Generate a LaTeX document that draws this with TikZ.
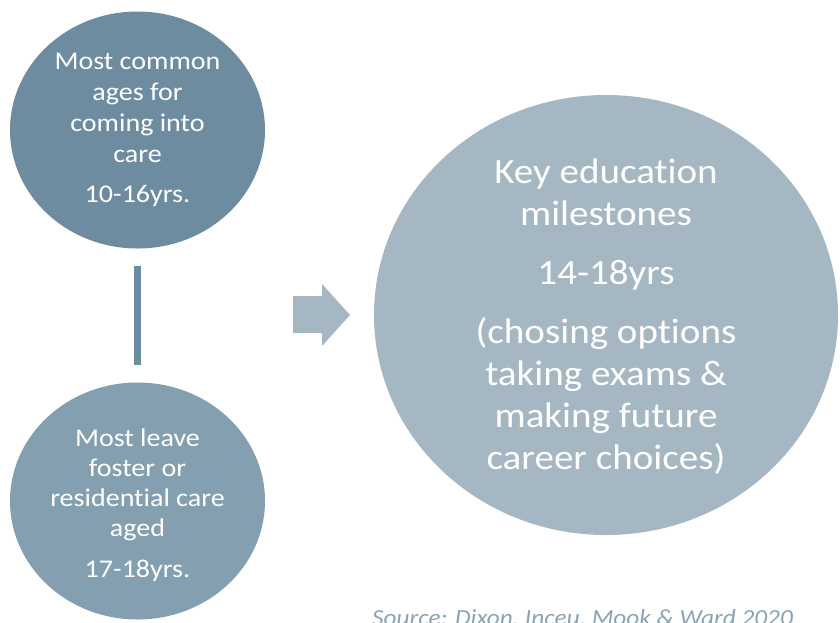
\documentclass[tikz,border=0pt]{standalone}
\usepackage{fontspec}
\setmainfont{Carlito}[FakeStretch=1.1, Ligatures=CommonOff]
\usetikzlibrary{shapes.geometric}
\definecolor{topc}{HTML}{6E8CA0}
\definecolor{botc}{HTML}{849FB0}
\definecolor{bigc}{HTML}{A4B7C3}
\definecolor{srcc}{HTML}{8AA3B5}
\tikzset{
  blob/.style={ellipse, draw=none, inner sep=0pt},
  smalltxt/.style={text=white, align=center, font=\fontsize{25.5}{31}\selectfont},
  bigtxt/.style={text=white, align=center, font=\fontsize{35.5}{42}\selectfont},
}
\begin{document}
\begin{tikzpicture}[x=1pt, y=-1pt]
\useasboundingbox (0,0) rectangle (840,622);
\clip (0,0) rectangle (840,622);
% circles
\node[blob, fill=topc, minimum width=255pt, minimum height=237pt] (top) at (137.5,130) {};
\node[blob, fill=botc, minimum width=255pt, minimum height=237pt] (bot) at (137.5,501) {};
\node[blob, fill=bigc, minimum width=464pt, minimum height=440pt] (big) at (606,315) {};
% texts
\node[smalltxt] (toptxt) at (137.5,129.5) {Most common\\ages for\\coming into\\care\\[9pt]10-16yrs.};
\node[smalltxt, font=\fontsize{25.5}{30}\selectfont] (bottxt) at (137.5,505) {Most leave\\foster or\\residential care\\aged\\[11pt]17-18yrs.};
\node[bigtxt] (bigtxt) at (606,316.5) {Key education\\milestones\\[17pt]14-18yrs\\[17pt](chosing options\\taking exams \&\\making future\\career choices)};
% vertical bar
\draw[topc, line width=7pt] ([yshift=-17pt]top.south) -- ([yshift=17pt]bot.north);
% arrow
\fill[bigc] (293,296) -- (322,296) -- (322,284) -- (350,315) -- (322,346) -- (322,333) -- (293,333) -- cycle;
% source
\node[anchor=base west, inner sep=0pt, text=srcc, font=\fontsize{23}{27}\selectfont\itshape] (src) at (372,625) {Source: Dixon, Inceu, Mook \& Ward 2020};
\end{tikzpicture}
\end{document}
